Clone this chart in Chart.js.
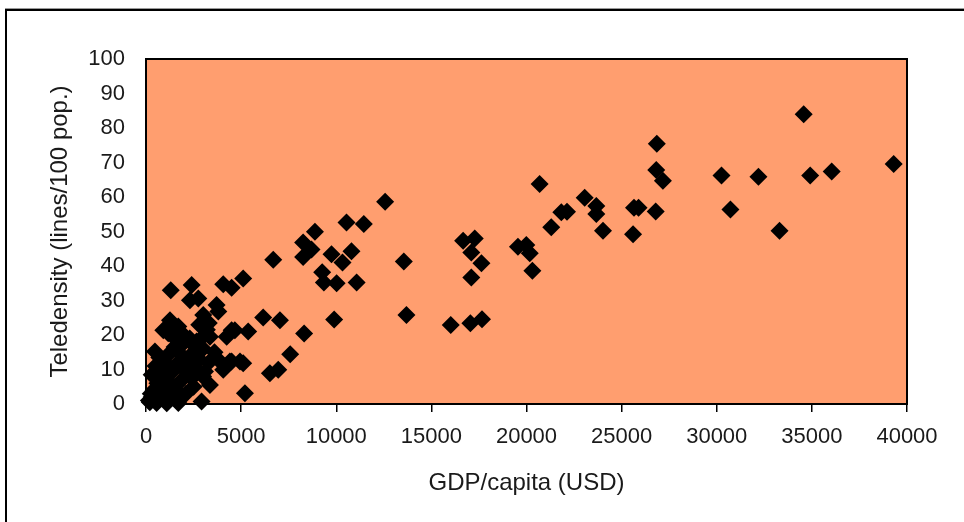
<!DOCTYPE html>
<html><head><meta charset="utf-8">
<script src="https://cdn.jsdelivr.net/npm/chart.js@4/dist/chart.umd.min.js"></script>
<style>html,body{margin:0;padding:0;background:#fff;}canvas{display:block;}</style>
</head><body>
<canvas id="c" width="964" height="522"></canvas>
<script>
// GDP per capita (USD)
const gdpPerCapita = [
  39300,36040,34910,34570,33300,32190,30720,30250,27170,26850,26820,26790,25890,25650,25600,
  24020,23670,23670,23060,22130,21830,21300,20690,20310,20170,19990,19550,17630,17280,17100,
  17100,16670,17660,17050,16020,13690,13550,12570,11450,10540,11070,10800,10330,10020,9890,
  9750,9350,9260,8880,8700,8260,8260,8310,7580,7040,6950,6690,6510,6160,5200,
  5370,5110,5110,4940,4670,4500,4410,4060,4060,3800,3710,3800,3010,2750,2310,
  2400,1300,4500,
  200,560,1090,1700,2920,300,700,1300,400,900,1500,2100,2500,3360,600,
  1100,1800,2400,3000,300,800,1400,2000,2600,3100,500,1000,1600,2200,2800,
  3300,700,1200,1900,2500,3000,3600,470,1500,1870,2490,2660,2840,3360,4240,
  1430,1170,910,1800,2300,3200,4500,1260,1700,3300,2800,150,250,650
];
// Teledensity (lines / 100 pop.)
const teledensity = [
  69.6,67.4,66.2,84.0,50.2,65.9,56.4,66.2,64.7,75.4,67.8,55.8,56.9,56.9,49.2,
  50.2,57.4,55.1,59.8,55.7,55.6,51.2,63.8,38.6,43.7,46.1,45.6,40.8,48.0,43.9,
  36.7,47.3,24.6,23.4,22.9,25.8,41.3,58.6,52.2,52.6,35.2,44.3,41.0,35.0,24.5,
  43.4,35.2,38.2,49.9,44.8,46.8,42.6,20.4,14.4,24.3,9.9,41.8,8.9,25.1,3.1,
  21.0,36.4,11.8,12.3,21.4,33.7,12.3,34.7,9.9,26.8,28.7,12.8,25.8,30.6,30.1,
  34.5,33.0,12.3,
  0.5,0.3,0.2,0.3,0.7,2.0,1.5,2.5,4.0,3.5,4.5,3.0,5.0,5.5,6.0,
  7.0,6.5,7.5,8.0,8.5,9.0,9.5,10.0,10.5,9.4,11.0,12.0,11.5,12.5,13.0,
  12.0,13.5,14.5,14.0,15.0,16.0,15.0,15.2,16.5,17.1,17.1,18.1,18.6,19.5,19.5,
  19.5,20.5,21.4,21.0,19.0,21.5,21.4,24.3,22.5,23.5,23.0,1.0,3.0,4.5
];
const xTickValues = [0,5000,10000,15000,20000,25000,30000,35000,40000];
const yTickValues = [0,10,20,30,40,50,60,70,80,90,100];

const points = gdpPerCapita.map((x, i) => ({x: x, y: teledensity[i]}));

const framePlugin = {
  id: 'frame',
  beforeDraw(chart) {
    const ctx = chart.ctx;
    ctx.save();
    ctx.fillStyle = '#ffffff';
    ctx.fillRect(0, 0, chart.width, chart.height);
    ctx.fillStyle = '#9a9a9a';
    ctx.fillRect(5, 8, chart.width - 5, 1);
    ctx.fillStyle = '#000000';
    ctx.fillRect(5, 9, chart.width - 5, 2);
    ctx.fillRect(5, 9, 2, chart.height - 9);
    ctx.restore();
  },
  beforeDatasetsDraw(chart) {
    const a = chart.chartArea;
    const ctx = chart.ctx;
    ctx.save();
    ctx.fillStyle = '#FF9E6F';
    ctx.fillRect(a.left, a.top, a.right - a.left, a.bottom - a.top);
    ctx.strokeStyle = '#000000';
    ctx.lineWidth = 2;
    ctx.strokeRect(a.left, a.top, a.right - a.left, a.bottom - a.top);
    ctx.restore();
  }
};

new Chart(document.getElementById('c'), {
  type: 'scatter',
  data: {
    datasets: [{
      data: points,
      pointStyle: 'rectRot',
      pointRadius: 9,
      pointHoverRadius: 9,
      backgroundColor: '#000000',
      borderColor: '#000000',
      borderWidth: 0,
      clip: false
    }]
  },
  options: {
    responsive: false,
    animation: false,
    events: [],
    layout: {padding: {left: 0, top: 59, right: 57, bottom: 0}},
    plugins: {legend: {display: false}, tooltip: {enabled: false}},
    scales: {
      x: {
        type: 'linear',
        min: 0, max: 40000,
        afterFit(s) { s.height = 118; },
        afterBuildTicks(s) { s.ticks = xTickValues.map(v => ({value: v})); },
        border: {display: false},
        grid: {display: true, drawOnChartArea: false, drawTicks: true, tickLength: 8, color: '#000000', lineWidth: 1.5},
        ticks: {
          padding: 12,
          color: '#1a1a1a',
          font: {family: 'Liberation Sans, Arial, sans-serif', size: 22},
          maxRotation: 0,
          autoSkip: false,
          callback: v => String(v)
        },
        title: {
          display: true,
          text: 'GDP/capita (USD)',
          color: '#1a1a1a',
          font: {family: 'Liberation Sans, Arial, sans-serif', size: 24},
          padding: {top: 0, bottom: 24}
        }
      },
      y: {
        type: 'linear',
        min: 0, max: 100,
        afterFit(s) { s.width = 146; },
        afterBuildTicks(s) { s.ticks = yTickValues.map(v => ({value: v})); },
        border: {display: false},
        grid: {display: false, drawTicks: false},
        ticks: {
          padding: 21,
          color: '#1a1a1a',
          font: {family: 'Liberation Sans, Arial, sans-serif', size: 22},
          autoSkip: false,
          callback: v => String(v)
        },
        title: {
          display: true,
          text: 'Teledensity (lines/100 pop.)',
          color: '#1a1a1a',
          font: {family: 'Liberation Sans, Arial, sans-serif', size: 24},
          padding: {top: 46, bottom: 0}
        }
      }
    }
  },
  plugins: [framePlugin]
});
</script>
</body></html>
